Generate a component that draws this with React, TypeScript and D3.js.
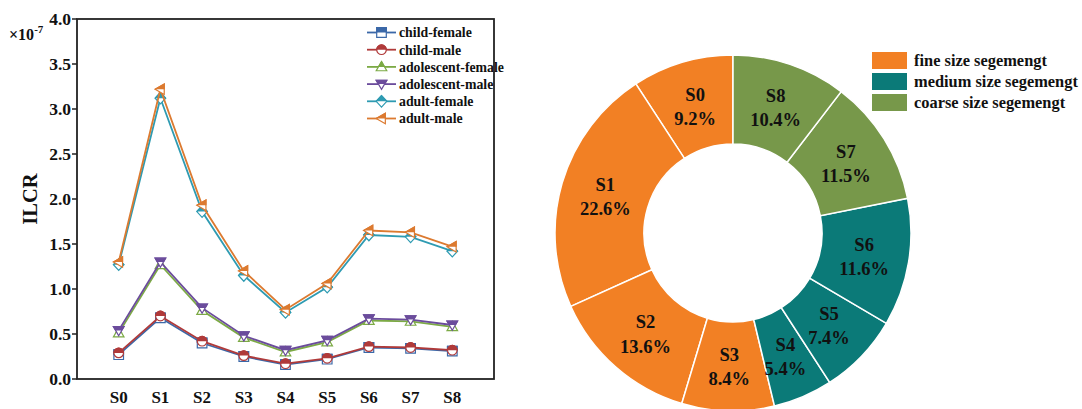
import React from "react";
import * as d3 from "d3";

const categories = ["S0", "S1", "S2", "S3", "S4", "S5", "S6", "S7", "S8"];

const seriesNames = ["child-female", "child-male", "adolescent-female", "adolescent-male", "adult-female", "adult-male"];
const seriesColors = ["#3b68a8", "#b03a3a", "#7caa45", "#6b4c9c", "#2e9bb2", "#dc7a30"];
const seriesShapes = ["square", "circle", "triUp", "triDown", "diamond", "triLeft"];

const childFemale = [0.27, 0.68, 0.40, 0.25, 0.16, 0.22, 0.35, 0.34, 0.31];
const childMale = [0.29, 0.70, 0.42, 0.26, 0.17, 0.23, 0.36, 0.35, 0.32];
const adolescentFemale = [0.51, 1.27, 0.76, 0.46, 0.30, 0.41, 0.65, 0.64, 0.58];
const adolescentMale = [0.54, 1.30, 0.79, 0.48, 0.32, 0.43, 0.67, 0.66, 0.60];
const adultFemale = [1.27, 3.12, 1.86, 1.15, 0.74, 1.02, 1.60, 1.58, 1.42];
const adultMale = [1.30, 3.22, 1.93, 1.20, 0.77, 1.06, 1.65, 1.63, 1.47];
const seriesValues = [childFemale, childMale, adolescentFemale, adolescentMale, adultFemale, adultMale];

const yTicks = [0, 0.5, 1.0, 1.5, 2.0, 2.5, 3.0, 3.5, 4.0];

const sliceLabels = ["S0", "S1", "S2", "S3", "S4", "S5", "S6", "S7", "S8"];
const sliceShares = [9.2, 22.6, 13.6, 8.4, 5.4, 7.4, 11.6, 11.5, 10.4];
const sliceGroup = [0, 0, 0, 0, 1, 1, 1, 2, 2];
const groupNames = ["fine size segemengt", "medium size segemengt", "coarse size segemengt"];
const groupColors = ["#f28024", "#0b7a78", "#77984a"];

const FONT = "'Liberation Serif', 'DejaVu Serif', serif";

function markerPath(shape: string, s: number) {
  switch (shape) {
    case "square":
      return `M${-s},${-s}H${s}V${s}H${-s}Z`;
    case "circle":
      return `M${-s},0A${s},${s} 0 1,1 ${s},0A${s},${s} 0 1,1 ${-s},0Z`;
    case "triUp":
      return `M0,${-s * 1.1}L${s * 1.1},${s * 0.8}L${-s * 1.1},${s * 0.8}Z`;
    case "triDown":
      return `M0,${s * 1.1}L${s * 1.1},${-s * 0.8}L${-s * 1.1},${-s * 0.8}Z`;
    case "diamond":
      return `M0,${-s * 1.2}L${s * 1.1},0L0,${s * 1.2}L${-s * 1.1},0Z`;
    default:
      return `M${-s * 1.1},0L${s * 0.8},${-s * 1.1}L${s * 0.8},${s * 1.1}Z`;
  }
}

function Marker({ shape, color, x, y }: { shape: string; color: string; x: number; y: number }) {
  const d = markerPath(shape, 4.8);
  return (
    <g transform={`translate(${x},${y})`}>
      <path d={d} fill="#fff" stroke={color} strokeWidth={1.2} />
      <path d={d} fill={color} stroke={color} strokeWidth={1.2} clipPath="url(#topHalf)" />
    </g>
  );
}

function LineChart() {
  const left = 77, right = 494, top = 19, bottom = 379;
  const x = d3.scalePoint<string>().domain(categories).range([left, right]).padding(1);
  const y = d3.scaleLinear().domain([0, 4]).range([bottom, top]);
  const line = d3.line<number>().x((_, i) => x(categories[i])!).y(d => y(d));

  return (
    <g fontFamily={FONT} fontWeight="bold">
      {yTicks.map(t => (
        <g key={t}>
          <line x1={left - 5} x2={left} y1={y(t)} y2={y(t)} stroke="#222" strokeWidth={1.5} />
          <text x={left - 6} y={y(t)} dy="0.35em" textAnchor="end" fontSize={17.5} fill="#111">{t.toFixed(1)}</text>
        </g>
      ))}
      {categories.map(c => (
        <text key={c} x={x(c)} y={403} textAnchor="middle" fontSize={17} fill="#111">{c}</text>
      ))}
      <text x={9} y={40} fontSize={16} fill="#111">×10<tspan dy={-7} fontSize={11}>-7</tspan></text>
      <text transform={`translate(37,${(top + bottom) / 2}) rotate(-90)`} textAnchor="middle" fontSize={20.5} fill="#111">ILCR</text>

      {seriesValues.map((vals, si) => (
        <g key={seriesNames[si]}>
          <path d={line(vals)!} fill="none" stroke={seriesColors[si]} strokeWidth={1.8} />
          {vals.map((v, i) => (
            <Marker key={i} shape={seriesShapes[si]} color={seriesColors[si]} x={x(categories[i])!} y={y(v)} />
          ))}
        </g>
      ))}

      {seriesNames.map((n, si) => {
        const ly = 32.5 + si * 17.2;
        return (
          <g key={n}>
            <line x1={367} x2={396} y1={ly} y2={ly} stroke={seriesColors[si]} strokeWidth={1.8} />
            <Marker shape={seriesShapes[si]} color={seriesColors[si]} x={381.5} y={ly} />
            <text x={399} y={ly} dy="0.35em" fontSize={13.8} fill="#111">{n}</text>
          </g>
        );
      })}

      <rect x={left} y={top} width={right - left} height={bottom - top} fill="none" stroke="#222" strokeWidth={1.8} />
    </g>
  );
}

function Donut() {
  const cx = 733, cy = 233, outer = 178, inner = 89;
  const pie = d3.pie<number>().sort(null).value(d => d).startAngle(0).endAngle(-2 * Math.PI);
  const arcs = pie(sliceShares);
  const arc = d3.arc<d3.PieArcDatum<number>>().innerRadius(inner).outerRadius(outer);
  const labelArc = d3.arc<d3.PieArcDatum<number>>().innerRadius(inner + 44).outerRadius(inner + 44);

  return (
    <g fontFamily={FONT} fontWeight="bold">
      <g transform={`translate(${cx},${cy})`}>
        {arcs.map((a, i) => (
          <path key={i} d={arc(a)!} fill={groupColors[sliceGroup[i]]} stroke="#fff" strokeWidth={1.5} />
        ))}
        {arcs.map((a, i) => {
          const [lx, ly] = labelArc.centroid(a);
          return (
            <text key={i} x={lx} y={ly} textAnchor="middle" fontSize={18.5} fill="#111">
              <tspan x={lx} dy="-0.25em">{sliceLabels[i]}</tspan>
              <tspan x={lx} dy="1.3em">{sliceShares[i].toFixed(1)}%</tspan>
            </text>
          );
        })}
      </g>
      {groupNames.map((g, i) => (
        <g key={g}>
          <rect x={872} y={52 + i * 21} width={35} height={17} fill={groupColors[i]} />
          <text x={914} y={60.5 + i * 21} dy="0.35em" fontSize={16.4} fill="#111">{g}</text>
        </g>
      ))}
    </g>
  );
}

export default function App() {
  return (
    <svg width={1082} height={409} style={{ position: "absolute", left: 0, top: 0, background: "#fff" }}>
      <defs>
        <clipPath id="topHalf">
          <rect x={-10} y={-10} width={20} height={10} />
        </clipPath>
      </defs>
      <LineChart />
      <Donut />
    </svg>
  );
}
